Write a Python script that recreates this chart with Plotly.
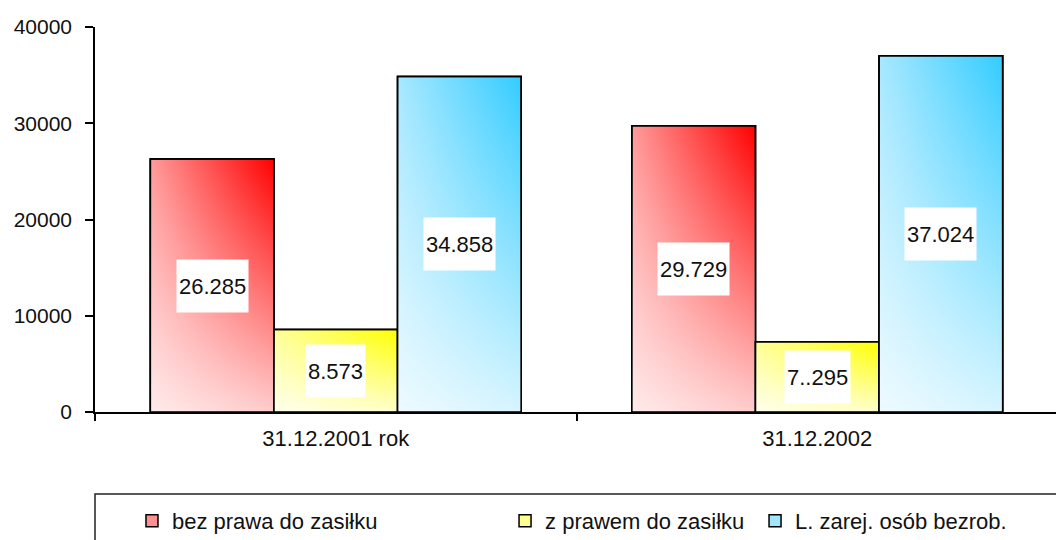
import plotly.graph_objects as go

# ---- data ----
categories = ["31.12.2001 rok", "31.12.2002"]
series_names = ["bez prawa do zasiłku", "z prawem do zasiłku", "L. zarej. osób bezrob."]
bez_prawa = [26285, 29729]
z_prawem = [8573, 7295]
zarejestrowani = [34858, 37024]
bez_prawa_labels = ["26.285", "29.729"]
z_prawem_labels = ["8.573", "7..295"]
zarejestrowani_labels = ["34.858", "37.024"]
y_ticks = [0, 10000, 20000, 30000, 40000]

series_values = [bez_prawa, z_prawem, zarejestrowani]
series_labels = [bez_prawa_labels, z_prawem_labels, zarejestrowani_labels]
series_colors = [("#ff9a9a", "#ff0000"), ("#ffff9a", "#ffff00"), ("#a8e8ff", "#33ccff")]
legend_colors = ["#ff9090", "#ffff90", "#a0e6ff"]

FONT = "Liberation Sans, Arial, sans-serif"
bar_w = 0.2567
offsets = [-bar_w, 0.0, bar_w]
x_pos = list(range(len(categories)))

fig = go.Figure()

# real bars (legend + outline); gradient overlays drawn on top
for si, (name, vals) in enumerate(zip(series_names, series_values)):
    fig.add_trace(go.Bar(
        x=x_pos, y=vals, name=name,
        marker=dict(color=legend_colors[si], line=dict(color="black", width=1.5)),
        legend=["legend", "legend2", "legend3"][si],
        hoverinfo="skip",
    ))

annotations = []
for si, (name, vals, labs, (c0, c1)) in enumerate(zip(series_names, series_values, series_labels, series_colors)):
    for ci, v in enumerate(vals):
        xc = x_pos[ci] + offsets[si]
        xs = [xc - bar_w / 2, xc + bar_w / 2, xc + bar_w / 2, xc - bar_w / 2, xc - bar_w / 2]
        ys = [0, 0, v, v, 0]
        fig.add_trace(go.Scatter(
            x=xs, y=ys, mode="lines", fill="toself",
            fillgradient=dict(type="horizontal", colorscale=[[0, c0], [1, c1]]),
            line=dict(color="black", width=1.5),
            showlegend=False, hoverinfo="skip",
        ))
        fig.add_trace(go.Scatter(
            x=xs, y=ys, mode="lines", fill="toself",
            fillgradient=dict(type="vertical",
                              colorscale=[[0, "rgba(255,255,255,0.8)"], [1, "rgba(255,255,255,0)"]]),
            line=dict(color="black", width=1.5),
            showlegend=False, hoverinfo="skip",
        ))
        annotations.append(dict(
            x=xc, y=v / 2, xref="x", yref="y", text=labs[ci], showarrow=False,
            bgcolor="white", height=48, borderpad=2,
            font=dict(family=FONT, size=22, color="#111"),
        ))

legend_common = dict(orientation="h", yanchor="middle", xanchor="left", y=-0.283,
                     bgcolor="rgba(0,0,0,0)", font=dict(family=FONT, size=22, color="#111"),
                     borderwidth=0)

fig.update_layout(
    width=1056, height=532,
    margin=dict(l=87, r=6, t=19, b=128, autoexpand=False),
    paper_bgcolor="white", plot_bgcolor="white",
    barmode="group", bargap=1 - 3 * bar_w, bargroupgap=0,
    annotations=annotations,
    legend=dict(legend_common, x=0.0384),
    legend2=dict(legend_common, x=0.4258),
    legend3=dict(legend_common, x=0.6854),
    shapes=[dict(type="rect", xref="paper", yref="paper", x0=0, x1=1.05, y0=-0.5, y1=-0.213,
                 line=dict(color="#222", width=1.5), fillcolor="rgba(0,0,0,0)")],
    xaxis=dict(range=[-0.5, 1.5], tickvals=x_pos, ticktext=categories, ticks="",
               showline=True, linecolor="black", linewidth=1.5, showgrid=False, zeroline=False,
               tickfont=dict(family=FONT, size=22, color="#111"), ticklabelstandoff=6,
               minor=dict(tickvals=[-0.5, 0.5, 1.5], ticks="outside", ticklen=7,
                          tickcolor="black", tickwidth=1.5, showgrid=False)),
    yaxis=dict(range=[0, 40000], tickvals=y_ticks, ticktext=[str(t) for t in y_ticks],
               ticks="outside", ticklen=8,
               tickcolor="black", tickwidth=1.5, showline=True, linecolor="black",
               linewidth=1.5, showgrid=False, zeroline=False, ticklabelstandoff=9,
               tickfont=dict(family=FONT, size=21, color="#111")),
)

fig.write_html("out.html")
